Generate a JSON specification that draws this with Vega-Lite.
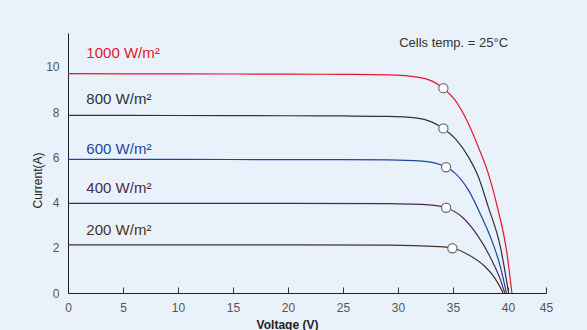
{
  "$schema": "https://vega.github.io/schema/vega-lite/v6.json",
  "width": 478,
  "height": 260,
  "autosize": {"type": "none"},
  "padding": {"left": 68, "top": 33, "right": 41, "bottom": 37},
  "background": "#e9f1fa",
  "config": {"view": {"stroke": null}, "font": "Liberation Sans"},
  "datasets": {
    "curves": [
      {"series": "1000", "V": 0, "I": 9.7}, {"series": "1000", "V": 10, "I": 9.69}, {"series": "1000", "V": 20, "I": 9.68}, {"series": "1000", "V": 25, "I": 9.67}, {"series": "1000", "V": 29.1, "I": 9.65}, {"series": "1000", "V": 31.9, "I": 9.54}, {"series": "1000", "V": 33.1, "I": 9.37}, {"series": "1000", "V": 34.1, "I": 9.06}, {"series": "1000", "V": 35.2, "I": 8.52}, {"series": "1000", "V": 36.4, "I": 7.49}, {"series": "1000", "V": 37.3, "I": 6.46}, {"series": "1000", "V": 38.2, "I": 5.29}, {"series": "1000", "V": 39.1, "I": 3.67}, {"series": "1000", "V": 39.9, "I": 1.76}, {"series": "1000", "V": 40.35, "I": 0},
      {"series": "800", "V": 0, "I": 7.86}, {"series": "800", "V": 10, "I": 7.85}, {"series": "800", "V": 20, "I": 7.84}, {"series": "800", "V": 25, "I": 7.83}, {"series": "800", "V": 29.1, "I": 7.81}, {"series": "800", "V": 31.6, "I": 7.75}, {"series": "800", "V": 33.1, "I": 7.56}, {"series": "800", "V": 34.1, "I": 7.28}, {"series": "800", "V": 35.2, "I": 6.83}, {"series": "800", "V": 36.4, "I": 6.02}, {"series": "800", "V": 37.3, "I": 5.14}, {"series": "800", "V": 38.2, "I": 3.81}, {"series": "800", "V": 39.3, "I": 2.05}, {"series": "800", "V": 40.05, "I": 0},
      {"series": "600", "V": 0, "I": 5.91}, {"series": "600", "V": 10, "I": 5.91}, {"series": "600", "V": 20, "I": 5.9}, {"series": "600", "V": 25, "I": 5.9}, {"series": "600", "V": 29.1, "I": 5.89}, {"series": "600", "V": 32.2, "I": 5.83}, {"series": "600", "V": 34.4, "I": 5.56}, {"series": "600", "V": 35.2, "I": 5.29}, {"series": "600", "V": 36.4, "I": 4.55}, {"series": "600", "V": 37.6, "I": 3.37}, {"series": "600", "V": 38.5, "I": 2.35}, {"series": "600", "V": 39.3, "I": 1.17}, {"series": "600", "V": 39.85, "I": 0},
      {"series": "400", "V": 0, "I": 3.96}, {"series": "400", "V": 20, "I": 3.96}, {"series": "400", "V": 29.1, "I": 3.95}, {"series": "400", "V": 33.1, "I": 3.89}, {"series": "400", "V": 34.4, "I": 3.77}, {"series": "400", "V": 35.8, "I": 3.37}, {"series": "400", "V": 37.3, "I": 2.49}, {"series": "400", "V": 38.5, "I": 1.47}, {"series": "400", "V": 39.3, "I": 0.59}, {"series": "400", "V": 39.7, "I": 0},
      {"series": "200", "V": 0, "I": 2.13}, {"series": "200", "V": 20, "I": 2.13}, {"series": "200", "V": 29.1, "I": 2.12}, {"series": "200", "V": 33.7, "I": 2.05}, {"series": "200", "V": 35.0, "I": 1.98}, {"series": "200", "V": 36.4, "I": 1.69}, {"series": "200", "V": 37.9, "I": 1.17}, {"series": "200", "V": 38.8, "I": 0.66}, {"series": "200", "V": 39.4, "I": 0.15}, {"series": "200", "V": 39.55, "I": 0}
    ],
    "knees": [
      {"series": "1000", "V": 34.12, "I": 9.06},
      {"series": "800", "V": 34.12, "I": 7.28},
      {"series": "600", "V": 34.37, "I": 5.56},
      {"series": "400", "V": 34.37, "I": 3.77},
      {"series": "200", "V": 34.94, "I": 1.98}
    ],
    "labels": [
      {"series": "1000", "label": "1000 W/m²", "V": 1.67, "I": 10.63},
      {"series": "800", "label": "800 W/m²", "V": 1.67, "I": 8.59},
      {"series": "600", "label": "600 W/m²", "V": 1.67, "I": 6.36},
      {"series": "400", "label": "400 W/m²", "V": 1.67, "I": 4.63},
      {"series": "200", "label": "200 W/m²", "V": 1.67, "I": 2.79}
    ],
    "note": [
      {"label": "Cells temp. = 25°C", "V": 30.1, "I": 11.06}
    ]
  },
  "encoding": {
    "x": {
      "field": "V", "type": "quantitative",
      "scale": {"domain": [0, 43.45], "nice": false, "zero": false},
      "axis": {
        "values": [0, 5, 10, 15, 20, 25, 30, 35, 40, 43.45],
        "labelExpr": "datum.value > 43 ? '45' : datum.label",
        "labelFlush": false,
        "grid": false, "tickSize": -6, "tickColor": "#333", "domainColor": "#222",
        "labelColor": "#555", "labelFontSize": 12, "labelPadding": 15,
        "title": "Voltage  (V)", "titleFontWeight": "bold", "titleFontSize": 12, "titleColor": "#222",
        "titleX": 219, "titleY": 35, "titleBaseline": "alphabetic"
      }
    },
    "y": {
      "field": "I", "type": "quantitative",
      "scale": {"domain": [0, 11.5], "nice": false},
      "axis": {
        "values": [0, 2, 4, 6, 8, 10], "ticks": false, "tickSize": 0, "labelPadding": 9,
        "grid": false, "domainColor": "#222", "labelColor": "#555", "labelFontSize": 12,
        "title": "Current(A)", "titleFontSize": 12, "titleFontWeight": "normal", "titleColor": "#222",
        "titleX": -31, "titleY": 147, "titleAngle": -90, "titleAlign": "center", "titleBaseline": "middle"
      }
    }
  },
  "layer": [
    {
      "data": {"name": "curves"},
      "mark": {"type": "line", "interpolate": "monotone", "strokeWidth": 1.2},
      "encoding": {
        "color": {"field": "series", "type": "nominal",
          "scale": {"domain": ["1000", "800", "600", "400", "200"], "range": ["#e5182c", "#303236", "#1f44a0", "#4a2c52", "#4b3426"]},
          "legend": null}
      }
    },
    {
      "data": {"name": "knees"},
      "mark": {"type": "point", "filled": true, "fill": "white", "stroke": "#6b6b6b", "strokeWidth": 1.2, "size": 85, "opacity": 1}
    },
    {
      "data": {"name": "labels"},
      "mark": {"type": "text", "align": "left", "baseline": "middle", "fontSize": 15},
      "encoding": {
        "text": {"field": "label"},
        "color": {"field": "series", "type": "nominal", "legend": null}
      }
    },
    {
      "data": {"name": "note"},
      "mark": {"type": "text", "align": "left", "baseline": "middle", "fontSize": 13, "color": "#333"},
      "encoding": {"text": {"field": "label"}}
    }
  ]
}
